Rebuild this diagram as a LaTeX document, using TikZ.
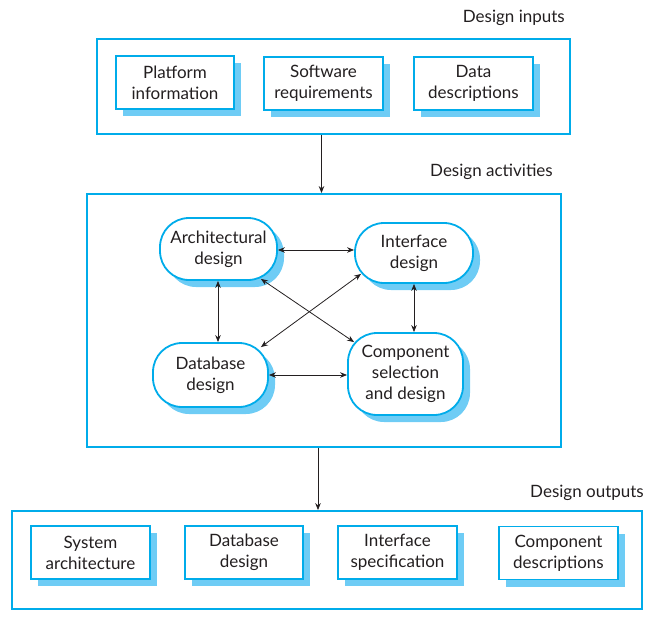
\documentclass[tikz,border=0pt]{standalone}
\usepackage{fontspec}
\setmainfont{Lato}
\usetikzlibrary{arrows.meta,calc,shadows}
\definecolor{boxblue}{RGB}{0,172,234}
\definecolor{shadowblue}{RGB}{110,204,245}
\definecolor{linegray}{RGB}{35,31,32}
\begin{document}
\begin{tikzpicture}[x=1pt,y=-1pt,
  txt/.style={font=\fontsize{17}{21}\selectfont, text=linegray, align=center, inner sep=0pt},
  outerbox/.style={draw=boxblue, line width=1.8pt, inner sep=0pt},
  itembox/.style={txt, draw=boxblue, fill=white, line width=1.8pt,
    drop shadow={shadow xshift=7pt, shadow yshift=-7pt, fill=shadowblue, opacity=1}},
  actbox/.style={itembox, rounded corners=29pt},
  title/.style={txt, anchor=east},
  conn/.style={draw=linegray, line width=0.8pt},
  arr/.style={conn, -{Stealth[length=7pt,width=5.5pt]}},
  darr/.style={conn, {Stealth[length=7pt,width=5.5pt]}-{Stealth[length=7pt,width=5.5pt]}}
]
\useasboundingbox (0,0) rectangle (651,623);

% Design inputs
\node[title] (tin) at (565,18) {Design inputs};
\node[outerbox, minimum width=473pt, minimum height=95pt] (top) at (333.5,86.5) {};
\node[itembox, minimum width=118pt, minimum height=53pt] (plat) at (175,82.5) {Platform\\information};
\node[itembox, minimum width=119pt, minimum height=53pt] (soft) at (323.5,83.5) {Software\\requirements};
\node[itembox, minimum width=119pt, minimum height=53pt] (data) at (473.5,83.5) {Data\\descriptions};

% Design activities
\node[title] (tact) at (553,172) {Design activities};
\node[outerbox, minimum width=474pt, minimum height=253pt] (mid) at (324,320.5) {};
\node[actbox, minimum width=117pt, minimum height=62pt] (arch) at (218.5,249) {Architectural\\design};
\node[actbox, minimum width=118pt, minimum height=60pt] (intf) at (414,253) {Interface\\design};
\node[actbox, minimum width=115pt, minimum height=64pt] (db) at (210.5,375) {Database\\design};
\node[actbox, minimum width=115pt, minimum height=82pt] (comp) at (405.5,374) {Component\\selection\\and design};

% Design outputs
\node[title] (tout) at (644,493) {Design outputs};
\node[outerbox, minimum width=630pt, minimum height=98pt] (bot) at (327,560) {};
\node[itembox, minimum width=119pt, minimum height=53pt] (sys) at (90.5,552.5) {System\\architecture};
\node[itembox, minimum width=118pt, minimum height=53pt] (dbd) at (244,552.5) {Database\\design};
\node[itembox, minimum width=119pt, minimum height=53pt] (ifs) at (397.5,552.5) {Interface\\specification};
\node[itembox, minimum width=119pt, minimum height=53pt] (cdesc) at (558.5,553) {Component\\descriptions};

% main flow arrows
\coordinate (x1) at (321.5,0);
\coordinate (x2) at (318,0);
\draw[arr] (top.south -| x1) -- (mid.north -| x1);
\draw[arr] (mid.south -| x2) -- (bot.north -| x2);

% activity connectors
\coordinate (archA) at (arch.east |- 0,250);
\draw[darr] (archA) -- (archA -| intf.west);
\coordinate (archB) at (arch.south -| 218,0);
\draw[darr] (archB) -- (archB |- db.north);
\draw[darr] (intf.south) -- (intf.south |- comp.north);
\coordinate (dbA) at (db.east |- 0,375);
\draw[darr] (dbA) -- (dbA -| comp.west);
\coordinate (archC) at ($(arch.south east)+(-17,-2)$);
\coordinate (compC) at ($(comp.north west)+(7,10)$);
\draw[darr] (archC) -- (compC);
\coordinate (intfC) at ($(intf.south west)+(7,-10)$);
\coordinate (dbC) at ($(db.north east)+(-8,5)$);
\draw[darr] (intfC) -- (dbC);
\end{tikzpicture}
\end{document}
